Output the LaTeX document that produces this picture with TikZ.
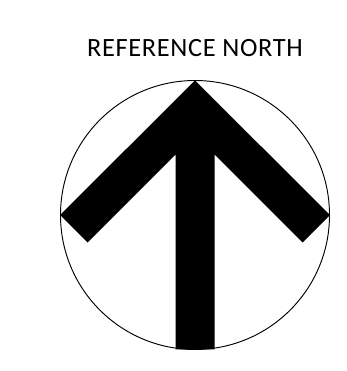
\documentclass[tikz,border=0pt]{standalone}
\usepackage{fontspec}
\setmainfont{Carlito}
\begin{document}
\begin{tikzpicture}[
  x=0.03cm, y=-0.03cm,
  title/.style={font=\fontsize{22.5}{26}\selectfont\addfontfeature{LetterSpace=2.5}, inner sep=0pt},
  rim/.style={draw=black, line width=0.8pt},
  shaft/.style={fill=black}
]
  \useasboundingbox (0,0) rectangle (347,371);

  % Title
  \node[title] (label) at (195, 48.3) {REFERENCE NORTH};

  % Ring
  \draw[rim] (195, 215) circle[radius=134.5];

  % Arrow: chevron head and stem in one outline
  \coordinate (apex) at (195, 80.5);
  \fill[shaft] (apex) -- (330, 215) -- (302.5, 242.5) -- (214.5, 154.5)
    -- (214.5, 349.3) -- (175.5, 349.3) -- (175.5, 154.5)
    -- (87.5, 242.5) -- (60, 215) -- cycle;
\end{tikzpicture}
\end{document}
